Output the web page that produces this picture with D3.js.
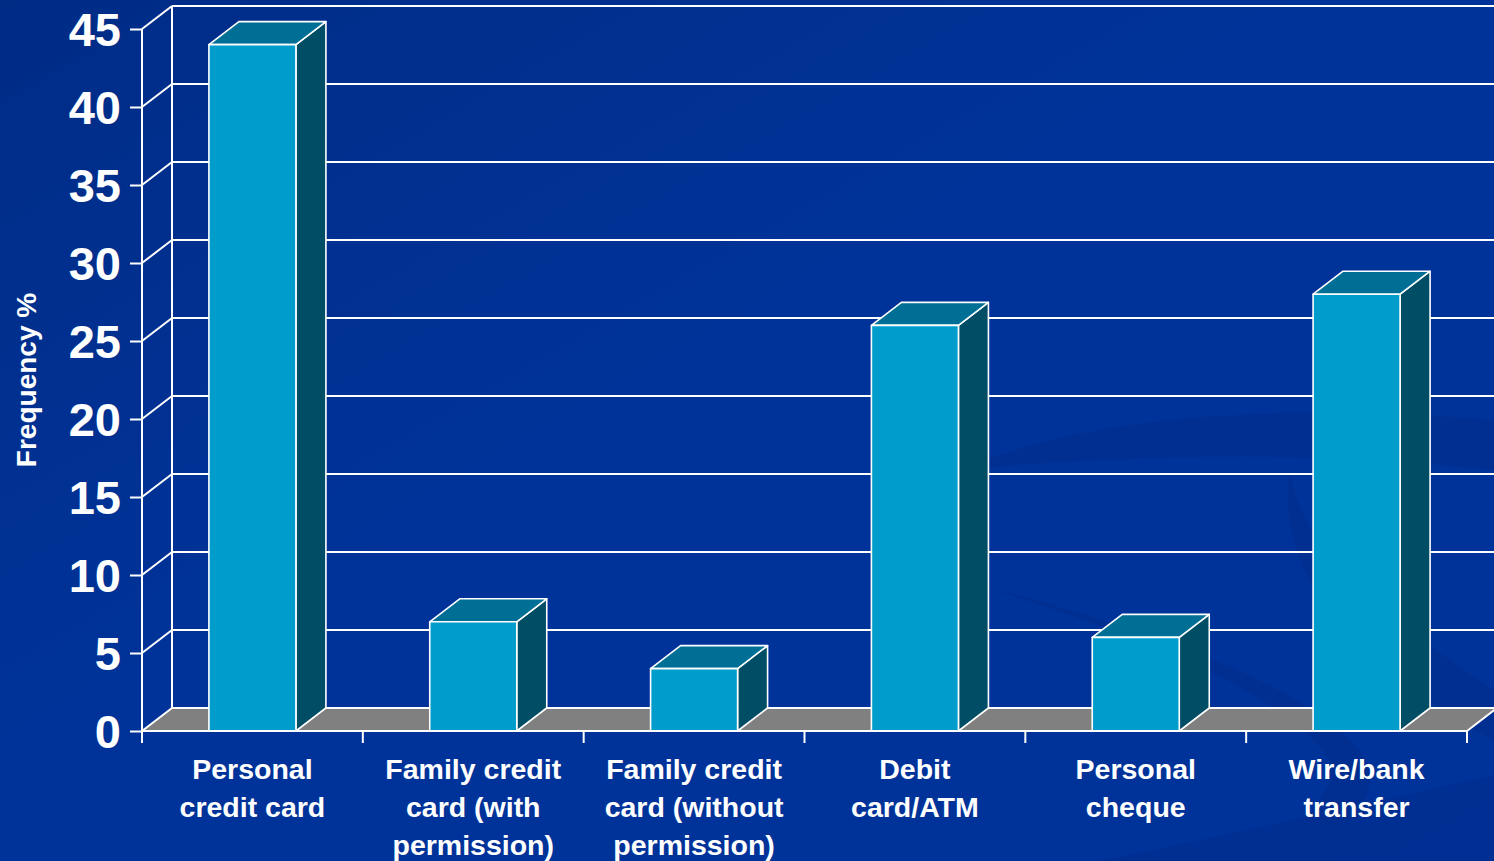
<!DOCTYPE html>
<html>
<head>
<meta charset="utf-8">
<script src="https://cdn.jsdelivr.net/npm/d3@7"></script>
<style>
  html, body { margin: 0; padding: 0; background: #003399; overflow: hidden; }
  svg { display: block; font-family: "Liberation Sans", Arial, sans-serif; }
</style>
</head>
<body>
<svg id="chart" width="1494" height="861"></svg>
<script>
// chart data
const categories = [
    ["Personal", "credit card"],
    ["Family credit", "card (with", "permission)"],
    ["Family credit", "card (without", "permission)"],
    ["Debit", "card/ATM"],
    ["Personal", "cheque"],
    ["Wire/bank", "transfer"]
];
const frequency = [44, 7, 4, 26, 6, 28];
const yTicks = [0, 5, 10, 15, 20, 25, 30, 35, 40, 45];
const yTitle = "Frequency %";

const svg = d3.select("#chart");
const W = 1494, H = 861;

// depth offset of the 3D box
const dx = 30, dy = -23;

// --- background ---
const defs = svg.append("defs");
const bg = defs.append("linearGradient").attr("id", "bg")
    .attr("x1", 0).attr("y1", 0).attr("x2", 1).attr("y2", 1);
bg.append("stop").attr("offset", "0%").attr("stop-color", "#002c86");
bg.append("stop").attr("offset", "45%").attr("stop-color", "#003399");
bg.append("stop").attr("offset", "100%").attr("stop-color", "#00339a");
svg.append("rect").attr("width", W).attr("height", H).attr("fill", "url(#bg)");

// faint swirls
const swirl = svg.append("g").attr("fill", "#002d8c").attr("opacity", 0.6);
swirl.append("path").attr("d", "M960,470 C1100,410 1300,405 1494,420 L1494,470 C1300,450 1120,455 960,470 Z");
swirl.append("path").attr("d", "M1290,470 C1300,560 1420,640 1494,690 L1494,740 C1400,690 1270,600 1290,470 Z");
swirl.append("path").attr("d", "M980,585 C1150,640 1280,690 1330,760 C1340,790 1300,830 1240,861 L1290,861 C1370,820 1390,780 1350,740 C1290,680 1150,630 980,585 Z");
swirl.append("path").attr("d", "M1100,861 C1250,830 1380,800 1494,775 L1494,861 Z").attr("opacity", 0.8);

// --- scales ---
const x = d3.scaleBand().domain(d3.range(categories.length)).range([142, 1467]).padding(0);
const y = d3.scaleLinear().domain([0, 45]).range([731, 29]);
const barW = x.bandwidth() * 0.394;

const wallColor = "#ffffff";

// back wall grid lines
const grid = svg.append("g").attr("stroke", wallColor).attr("stroke-width", 2).attr("fill", "none");
yTicks.forEach(t => {
    if (t === 0) return;
    grid.append("line")
        .attr("x1", x.range()[0] + dx).attr("x2", x.range()[1] + dx)
        .attr("y1", y(t) + dy).attr("y2", y(t) + dy);
    // side wall diagonal
    grid.append("line")
        .attr("x1", x.range()[0]).attr("y1", y(t))
        .attr("x2", x.range()[0] + dx).attr("y2", y(t) + dy);
});
// back wall left edge
grid.append("line")
    .attr("x1", x.range()[0] + dx).attr("x2", x.range()[0] + dx)
    .attr("y1", y(45) + dy).attr("y2", y(0) + dy);

// floor
const x0 = x.range()[0], x1 = x.range()[1];
svg.append("path")
    .attr("d", `M${x0},${y(0)} L${x1},${y(0)} L${x1 + dx},${y(0) + dy} L${x0 + dx},${y(0) + dy} Z`)
    .attr("fill", "#808080")
    .attr("stroke", wallColor)
    .attr("stroke-width", 2)
    .attr("stroke-linejoin", "round");

// front vertical axis
svg.append("line")
    .attr("x1", x0).attr("x2", x0)
    .attr("y1", y(45)).attr("y2", y(0))
    .attr("stroke", wallColor).attr("stroke-width", 2);

// y axis ticks and labels
const yAxis = svg.append("g").attr("transform", `translate(${x0},0)`)
    .call(d3.axisLeft(y).tickValues(yTicks).tickSize(12).tickPadding(9));
yAxis.select(".domain").remove();
yAxis.selectAll(".tick line").attr("stroke", wallColor).attr("stroke-width", 2);
yAxis.selectAll(".tick text")
    .attr("fill", "#ffffff")
    .attr("font-family", "'Liberation Sans', Arial, sans-serif")
    .attr("font-weight", "bold")
    .attr("font-size", 47)
    .attr("dy", "0.36em");

// bars
const bars = svg.append("g")
    .attr("stroke", "#ffffff").attr("stroke-width", 1.6).attr("stroke-linejoin", "round");
frequency.forEach((v, i) => {
    const cx = x(i) + x.bandwidth() / 2;
    const left = cx - barW / 2, right = cx + barW / 2;
    const top = y(v), base = y(0);
    // right side face
    bars.append("path")
        .attr("d", `M${right},${base} L${right + dx},${base + dy} L${right + dx},${top + dy} L${right},${top} Z`)
        .attr("fill", "#004d66");
    // top face
    bars.append("path")
        .attr("d", `M${left},${top} L${left + dx},${top + dy} L${right + dx},${top + dy} L${right},${top} Z`)
        .attr("fill", "#006f96");
    // front face
    bars.append("rect")
        .attr("x", left).attr("y", top)
        .attr("width", barW).attr("height", base - top)
        .attr("fill", "#009ccc");
});

// x axis line with ticks
const xAxis = svg.append("g").attr("stroke", wallColor).attr("stroke-width", 2);
xAxis.append("line").attr("x1", x0).attr("x2", x1).attr("y1", y(0)).attr("y2", y(0));
d3.range(categories.length + 1).forEach(i => {
    const xx = i < categories.length ? x(i) : x1;
    xAxis.append("line").attr("x1", xx).attr("x2", xx).attr("y1", y(0)).attr("y2", y(0) + 12);
});

// category labels
const labels = svg.append("g")
    .attr("fill", "#ffffff")
    .attr("font-weight", "bold")
    .attr("font-size", 28.5)
    .attr("text-anchor", "middle");
categories.forEach((lines, i) => {
    const cx = x(i) + x.bandwidth() / 2;
    const t = labels.append("text").attr("x", cx).attr("y", 779);
    lines.forEach((ln, j) => {
        t.append("tspan").attr("x", cx).attr("dy", j === 0 ? 0 : 38).text(ln);
    });
});

// y axis title
svg.append("text")
    .attr("transform", "translate(36,380) rotate(-90)")
    .attr("text-anchor", "middle")
    .attr("fill", "#ffffff")
    .attr("font-weight", "bold")
    .attr("font-size", 28)
    .text(yTitle);
</script>
</body>
</html>
